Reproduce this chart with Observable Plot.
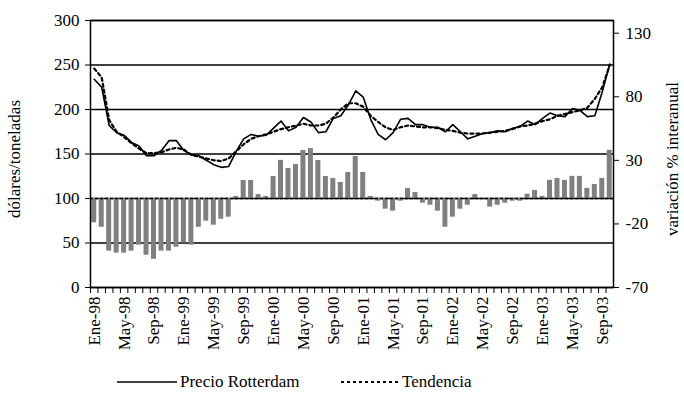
<!DOCTYPE html>
<html>
<head>
<meta charset="utf-8">
<script src="https://cdn.jsdelivr.net/npm/d3@7"></script>
<script src="https://cdn.jsdelivr.net/npm/@observablehq/plot@0.6"></script>
<style>
  html, body { margin: 0; padding: 0; background: #fff; }
  #wrap { position: relative; width: 684px; height: 412px; font-family: "Liberation Serif", "Times New Roman", serif; }
  #legend { position: absolute; left: 0; top: 371px; width: 684px; height: 22px; font-size: 17px; color: #000; }
  .item { position: absolute; top: 0; display: flex; align-items: center; height: 22px; }
  .item svg { margin-right: 3px; }
</style>
</head>
<body>
<div id="wrap">
  <div id="chart"></div>
  <div id="legend">
    <div class="item" style="left:117px"><svg width="60" height="10"><line x1="0" y1="5" x2="60" y2="5" stroke="#000" stroke-width="1.5"/></svg><span>Precio Rotterdam</span></div>
    <div class="item" style="left:341px"><svg width="58" height="10"><line x1="0" y1="5" x2="58" y2="5" stroke="#000" stroke-width="2" stroke-dasharray="3,3"/></svg><span>Tendencia</span></div>
  </div>
</div>
<script>
// ---- data ----
const monthNames = ["Ene","Feb","Mar","Abr","May","Jun","Jul","Ago","Sep","Oct","Nov","Dic"];
const years = ["98","99","00","01","02","03"];
const nMonths = 70; // Ene-98 .. Oct-03

// Precio Rotterdam (dólares/tonelada)
const price = [234,225,182,174,171,163,159,148,148,154,165,165,
               154,149,148,143,138,135,136,153,167,172,170,171,
               179,187,176,180,191,186,174,175,190,193,205,221,
               214,189,172,166,174,189,190,183,183,180,180,175,
               183,175,167,170,173,174,176,175,179,181,187,183,
               190,196,193,192,201,199,192,193,220,251];

// Tendencia (dólares/tonelada)
const trend = [246,236,188,175,169,162,156,151,151,152,155,157,
               155,149,147,145,143,142,145,153,161,167,170,172,
               175,178,180,182,184,182,182,184,191,200,207,207,
               203,193,186,180,177,180,182,181,180,180,179,177,
               176,174,173,173,173,174,175,176,178,181,182,184,
               187,189,193,195,197,199,202,212,225,250];

// Variación % interanual (eje secundario)
const variation = [-19.1,-22.6,-41.4,-43,-43,-41.4,-36.7,-44.6,-47.8,-41.4,-41.4,-38.3,
                   -35,-36.7,-22.6,-17.8,-21,-16.3,-14.7,1.6,14.2,14.2,3.1,1.6,
                   17.3,30,23.6,26.8,37.8,39.3,29.9,17.3,15.7,12.6,20.5,33,
                   20.5,1.6,-2.1,-8.4,-10,-2.1,7.9,4.7,-3.7,-5.3,-10,-22.6,
                   -14.7,-8.4,-5.3,3.1,0,-6.8,-5.3,-3.7,-2.1,-2.1,3.4,6.4,
                   1.7,14.3,15.8,14.3,17.4,17.4,8,11,15.8,37.9];

const leftTicks = [0,50,100,150,200,250,300];
const rightTicks = [-70,-20,30,80,130];
// secondary axis mapping: right = (left - 100) * 0.7
const rightToLeft = r => 100 + r / 0.7;
const leftToRight = l => Math.round((l - 100) * 0.7);

const labels = [];
for (const y of years) for (const m of monthNames) labels.push(`${m}-${y}`);
labels.length = nMonths;
const shownLabels = labels.filter((d, i) => i % 4 === 0);

const data = labels.map((label, i) => ({label, price: price[i], trend: trend[i], variation: variation[i]}));

const W = 684, H = 360;
const mL = 90, mR = 71, mT = 20, mB = 73;
const step = (W - mL - mR) / nMonths;
const FS = 17;

const chart = Plot.plot({
  width: W, height: H,
  marginLeft: mL, marginRight: mR, marginTop: mT, marginBottom: mB,
  style: {fontFamily: "'Liberation Serif', 'Times New Roman', serif", fontSize: FS + "px", background: "#fff", color: "#000", overflow: "visible"},
  x: {type: "band", domain: labels, paddingInner: 0.33, paddingOuter: 0.165, axis: null},
  y: {domain: [0, 300], axis: null},
  marks: [
    Plot.ruleY(leftTicks, {stroke: "#000", strokeWidth: 1.4}),
    Plot.barY(data, {x: "label", y1: 100, y2: d => rightToLeft(d.variation), fill: "#808080"}),
    Plot.ruleY([100], {stroke: "#000", strokeWidth: 1.4, strokeDasharray: "3,2"}),
    Plot.line(data, {x: "label", y: "trend", stroke: "#000", strokeWidth: 2.2, strokeDasharray: "3,3"}),
    Plot.line(data, {x: "label", y: "price", stroke: "#000", strokeWidth: 1.6}),
    Plot.frame({stroke: "#000", strokeWidth: 1.5}),
    Plot.axisY({ticks: leftTicks, anchor: "left", tickSize: 5, tickPadding: 6, label: null, fontSize: FS}),
    Plot.axisY({ticks: rightTicks.map(rightToLeft), tickFormat: leftToRight, anchor: "right", tickSize: 5, tickPadding: 7, label: null, fontSize: FS}),
    Plot.axisX({ticks: labels, tickFormat: () => "", tickSize: 6, dx: -step / 2, label: null}),
    Plot.axisX({ticks: shownLabels, tickRotate: -90, tickSize: 0, tickPadding: 9, label: null, fontSize: FS}),
    Plot.text(["dólares/toneladas"], {frameAnchor: "left", textAnchor: "middle", dx: -76, dy: 5, rotate: -90, fontSize: FS}),
    Plot.text(["variación % interanual"], {frameAnchor: "right", textAnchor: "middle", dx: 59, dy: 5, rotate: -90, fontSize: FS})
  ]
});
document.getElementById("chart").appendChild(chart);
</script>
</body>
</html>
